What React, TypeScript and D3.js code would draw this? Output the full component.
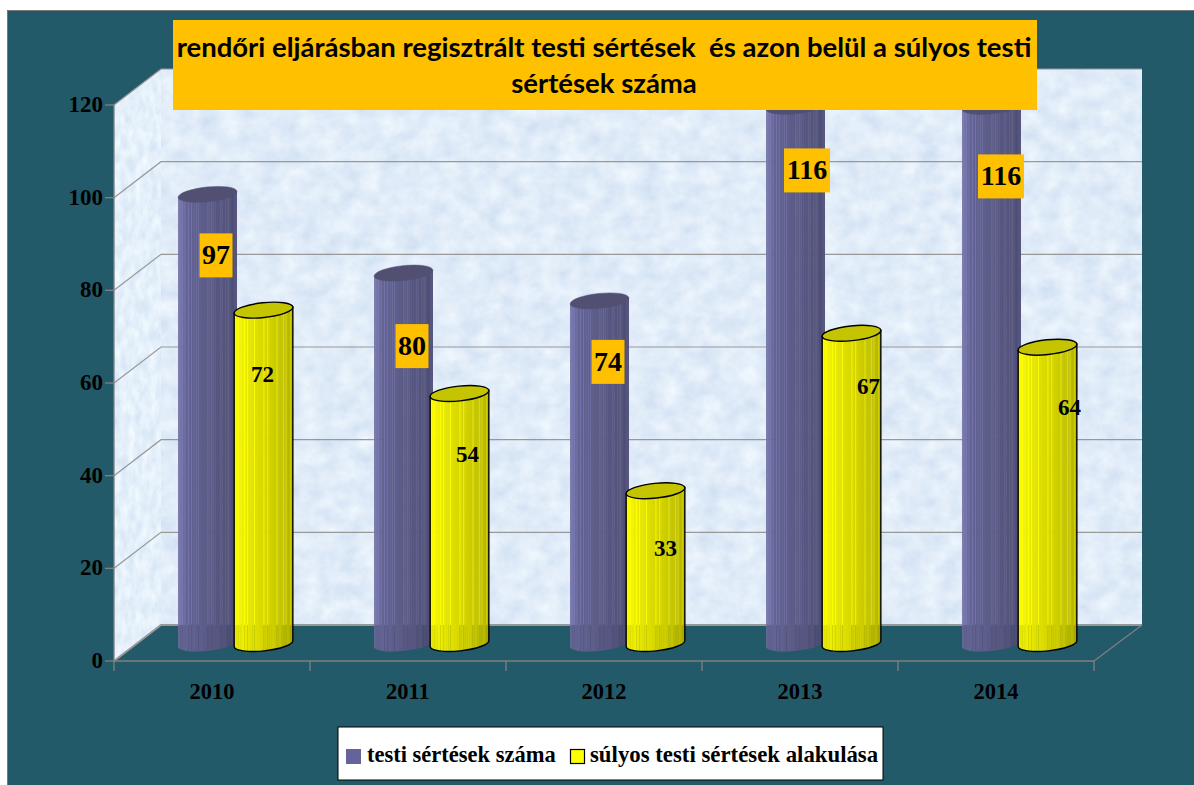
import * as d3 from "d3";
import { useEffect, useRef } from "react";

const years = ["2010", "2011", "2012", "2013", "2014"];
const assaults = [97, 80, 74, 116, 116];
const severe = [72, 54, 33, 67, 64];
const yTicks = [0, 20, 40, 60, 80, 100, 120];
const titleLines = [
  "rendőri eljárásban regisztrált testi sértések  és azon belül a súlyos testi",
  "sértések száma",
];
const legendLabels = ["testi sértések száma", "súlyos testi sértések alakulása"];

// hand placed data labels, offset from the top of each cylinder
const assaultLabelShift = [[8.5, 61], [8.5, 73], [8.5, 61], [11.5, 64], [9.5, 70]];
const severeLabelShift = [[-1, 65], [8, 62], [10, 58], [17, 54], [22, 61]];
// which slats of a cylinder catch the light
const lightSlats = [3, 6, 8, 13, 15, 19, 24, 26, 31, 35, 37, 41, 44];

const BG = "#235a6a";
const ORANGE = "#ffc000";
const GRID = "#989898";
const SERIF = "'Liberation Serif', serif";

export default function App() {
  const ref = useRef<SVGSVGElement>(null);

  useEffect(() => {
    draw();
  }, []);

  function draw() {
    const svg = d3.select(ref.current);
    svg.selectAll("*").remove();

    const x = d3.scaleBand().domain(years).range([114, 1094]);
    const y = d3.scaleLinear().domain([0, 120]).range([661, 105]); // front wall
    const depthX = 47;
    const depthY = -36;
    const yBar = d3.scaleLinear().domain([0, 120]).range([643.5, 87.9]);
    const left = x.range()[0];
    const right = x.range()[1];
    const floorBack = y(0) + depthY;

    svg.append("rect").attr("width", 1194).attr("height", 785).attr("fill", "#fff");
    svg.append("rect").attr("x", 7).attr("y", 10).attr("width", 1187).attr("height", 775).attr("fill", BG);
    svg.append("path")
      .attr("d", "M7.5,785V10.5H1194")
      .attr("fill", "none").attr("stroke", "#777").attr("stroke-width", 1);

    // marble texture for the walls, one noise channel so it stays blue-grey
    const defs = svg.append("defs");
    const marble = (id: string, fx: number, fy: number, seed: number, lift: number) => {
      const f = defs.append("filter").attr("id", id)
        .attr("x", 0).attr("y", 0).attr("width", 1).attr("height", 1)
        .attr("color-interpolation-filters", "sRGB");
      f.append("feTurbulence")
        .attr("type", "fractalNoise")
        .attr("baseFrequency", `${fx} ${fy}`)
        .attr("numOctaves", 5)
        .attr("seed", seed);
      f.append("feColorMatrix")
        .attr("values", `0.16 0 0 0 ${0.8 + lift}  0.12 0 0 0 ${0.865 + lift}  0.06 0 0 0 ${0.943 + lift / 2}  0 0 0 0 1`);
    };
    marble("wallTex", 0.05, 0.06, 4, 0);
    marble("sideTex", 0.14, 0.07, 9, 0.015);

    const line = d3.line();
    svg.append("rect")
      .attr("x", left + depthX).attr("y", y(120) + depthY)
      .attr("width", right - left + 1).attr("height", y(0) - y(120))
      .attr("filter", "url(#wallTex)");

    defs.append("clipPath").attr("id", "sideClip").append("path")
      .attr("d", line([
        [left, y(120)],
        [left + depthX, y(120) + depthY],
        [left + depthX, floorBack],
        [left, y(0)],
      ]));
    svg.append("g").attr("clip-path", "url(#sideClip)")
      .append("rect")
      .attr("x", left).attr("y", y(120) + depthY)
      .attr("width", depthX).attr("height", y(0) - y(120) - depthY)
      .attr("filter", "url(#sideTex)");

    // gridlines run along the side wall and across the back wall
    const grid = svg.append("g").attr("fill", "none").attr("stroke", GRID);
    yTicks.forEach((t) => {
      grid.append("path")
        .attr("stroke-width", t === 0 ? 2 : 1.2)
        .attr("d", line([
          [left, y(t)],
          [left + depthX, y(t) + depthY],
          [right + depthX + 1, y(t) + depthY],
        ]));
    });
    grid.append("path").attr("stroke-width", 1.2).attr("stroke", "#808080")
      .attr("d", line([
        [right, y(0)],
        [right + depthX + 1, floorBack],
      ]));

    // front axes
    const axes = svg.append("g").attr("stroke", "#808080").attr("stroke-width", 1.3).attr("fill", "none");
    axes.append("path").attr("d", line([[left, y(120)], [left, y(0)], [right, y(0)]]));
    yTicks.forEach((t) => {
      axes.append("path").attr("d", line([[left - 9, y(t)], [left, y(t)]]));
    });
    [...years.map((d) => x(d)!), right].forEach((px) => {
      axes.append("path").attr("d", line([[px, y(0)], [px, y(0) + 10]]));
    });

    svg.append("g").selectAll("text").data(yTicks).join("text")
      .attr("x", 103).attr("y", (d) => y(d) + 7)
      .attr("text-anchor", "end")
      .style("font", `bold 23px ${SERIF}`)
      .text((d) => d);

    svg.append("g").selectAll("text").data(years).join("text")
      .attr("x", (d) => x(d)! + x.bandwidth() / 2)
      .attr("y", 699)
      .attr("text-anchor", "middle")
      .style("font", `bold 22.5px ${SERIF}`)
      .text((d) => d);

    // cylinders
    const rx = 29.5;
    const ry = 7.4;
    const rot = -6;
    const sinR = Math.sin((rot * Math.PI) / 180);
    const cosR = Math.cos((rot * Math.PI) / 180);
    const slatCount = 48;

    const cylinder = (
      id: string,
      cx: number,
      value: number,
      colors: [string, string, string],
      topFill: string,
      stroke: string
    ) => {
      const top = yBar(value);
      const base = yBar(0);
      const dx = rx * cosR;
      const dy = rx * sinR;
      const body = `M${cx - dx},${top - dy} L${cx - dx},${base - dy} A${rx},${ry} ${rot} 0 0 ${cx + dx},${base + dy} L${cx + dx},${top + dy} Z`;
      const g = svg.append("g");
      defs.append("clipPath").attr("id", id).append("path").attr("d", body);
      const shade = d3.scaleLinear<string>().domain([0, 0.15, 1]).range(colors);
      const slats = g.append("g").attr("clip-path", `url(#${id})`);
      const slatX = (i: number) => cx + Math.cos(Math.PI - (i / slatCount) * Math.PI) * dx;
      d3.range(slatCount).forEach((i) => {
        slats.append("rect")
          .attr("x", slatX(i)).attr("y", top - 30)
          .attr("width", slatX(i + 1) - slatX(i) + 0.4)
          .attr("height", base - top + 60)
          .attr("fill", shade((i + 0.5) / slatCount));
      });
      lightSlats.forEach((i) => {
        const c = d3.color(shade((i + 0.5) / slatCount))!;
        // thin highlights stop at the back edge of the floor, darker ticks below it
        slats.append("rect")
          .attr("x", slatX(i)).attr("y", top - 30)
          .attr("width", 0.9)
          .attr("height", Math.max(0, floorBack - top + 30))
          .attr("fill", c.brighter(0.45).toString());
        slats.append("rect")
          .attr("x", slatX(i)).attr("y", Math.max(floorBack, top))
          .attr("width", 0.9)
          .attr("height", 40)
          .attr("fill", c.darker(0.3).toString());
      });
      if (stroke !== "none") {
        g.append("path").attr("d", body).attr("fill", "none").attr("stroke", stroke).attr("stroke-width", 1.4);
      }
      g.append("ellipse")
        .attr("cx", cx).attr("cy", top)
        .attr("rx", rx).attr("ry", ry)
        .attr("transform", `rotate(${rot} ${cx} ${top})`)
        .attr("fill", topFill)
        .attr("stroke", stroke === "none" ? topFill : stroke)
        .attr("stroke-width", stroke === "none" ? 0.5 : 1.4);
    };

    years.forEach((year, i) => {
      const start = x(year)!;
      cylinder(`a${i}`, start + 93.5, assaults[i], ["#72729f", "#68689a", "#48486c"], "#514f72", "none");
      cylinder(`s${i}`, start + 149.5, severe[i], ["#ffff00", "#f8f800", "#a8a800"], "#c4c400", "#000");
    });

    // data labels
    years.forEach((year, i) => {
      const start = x(year)!;
      const ax = start + 93.5 + assaultLabelShift[i][0];
      const ay = yBar(assaults[i]) + assaultLabelShift[i][1];
      const w = assaults[i] >= 100 ? 46 : 33;
      svg.append("rect")
        .attr("x", ax - w / 2).attr("y", ay - 22)
        .attr("width", w).attr("height", 44)
        .attr("fill", ORANGE);
      svg.append("text")
        .attr("x", ax).attr("y", ay + 9)
        .attr("text-anchor", "middle")
        .style("font", `bold 28px ${SERIF}`)
        .text(assaults[i]);

      svg.append("text")
        .attr("x", start + 149.5 + severeLabelShift[i][0])
        .attr("y", yBar(severe[i]) + severeLabelShift[i][1] + 7)
        .attr("text-anchor", "middle")
        .style("font", `bold 23px ${SERIF}`)
        .text(severe[i]);
    });

    // title sits on top of the tall bars
    svg.append("rect")
      .attr("x", 173).attr("y", 20).attr("width", 864).attr("height", 90)
      .attr("fill", ORANGE);
    titleLines.forEach((t, i) => {
      svg.append("text")
        .attr("x", 604).attr("y", 57 + i * 36)
        .attr("text-anchor", "middle")
        .attr("xml:space", "preserve")
        .style("white-space", "pre")
        .style("font", "bold 27.5px Lato, sans-serif")
        .text(t);
    });

    // legend
    svg.append("rect")
      .attr("x", 338).attr("y", 727).attr("width", 545).attr("height", 53)
      .attr("fill", "#fff").attr("stroke", "#000");
    svg.append("rect").attr("x", 346).attr("y", 749).attr("width", 15).attr("height", 15).attr("fill", "#64649a");
    svg.append("text").attr("x", 367).attr("y", 762)
      .style("font", `bold 22.5px ${SERIF}`).text(legendLabels[0]);
    svg.append("rect").attr("x", 570.5).attr("y", 749.5).attr("width", 14).attr("height", 14)
      .attr("fill", "#ffff00").attr("stroke", "#000").attr("stroke-width", 1.2);
    svg.append("text").attr("x", 590).attr("y", 762)
      .style("font", `bold 22.8px ${SERIF}`).text(legendLabels[1]);
  }

  return (
    <svg
      ref={ref}
      width={1194}
      height={785}
      style={{ position: "absolute", left: 0, top: 0, display: "block" }}
    />
  );
}
